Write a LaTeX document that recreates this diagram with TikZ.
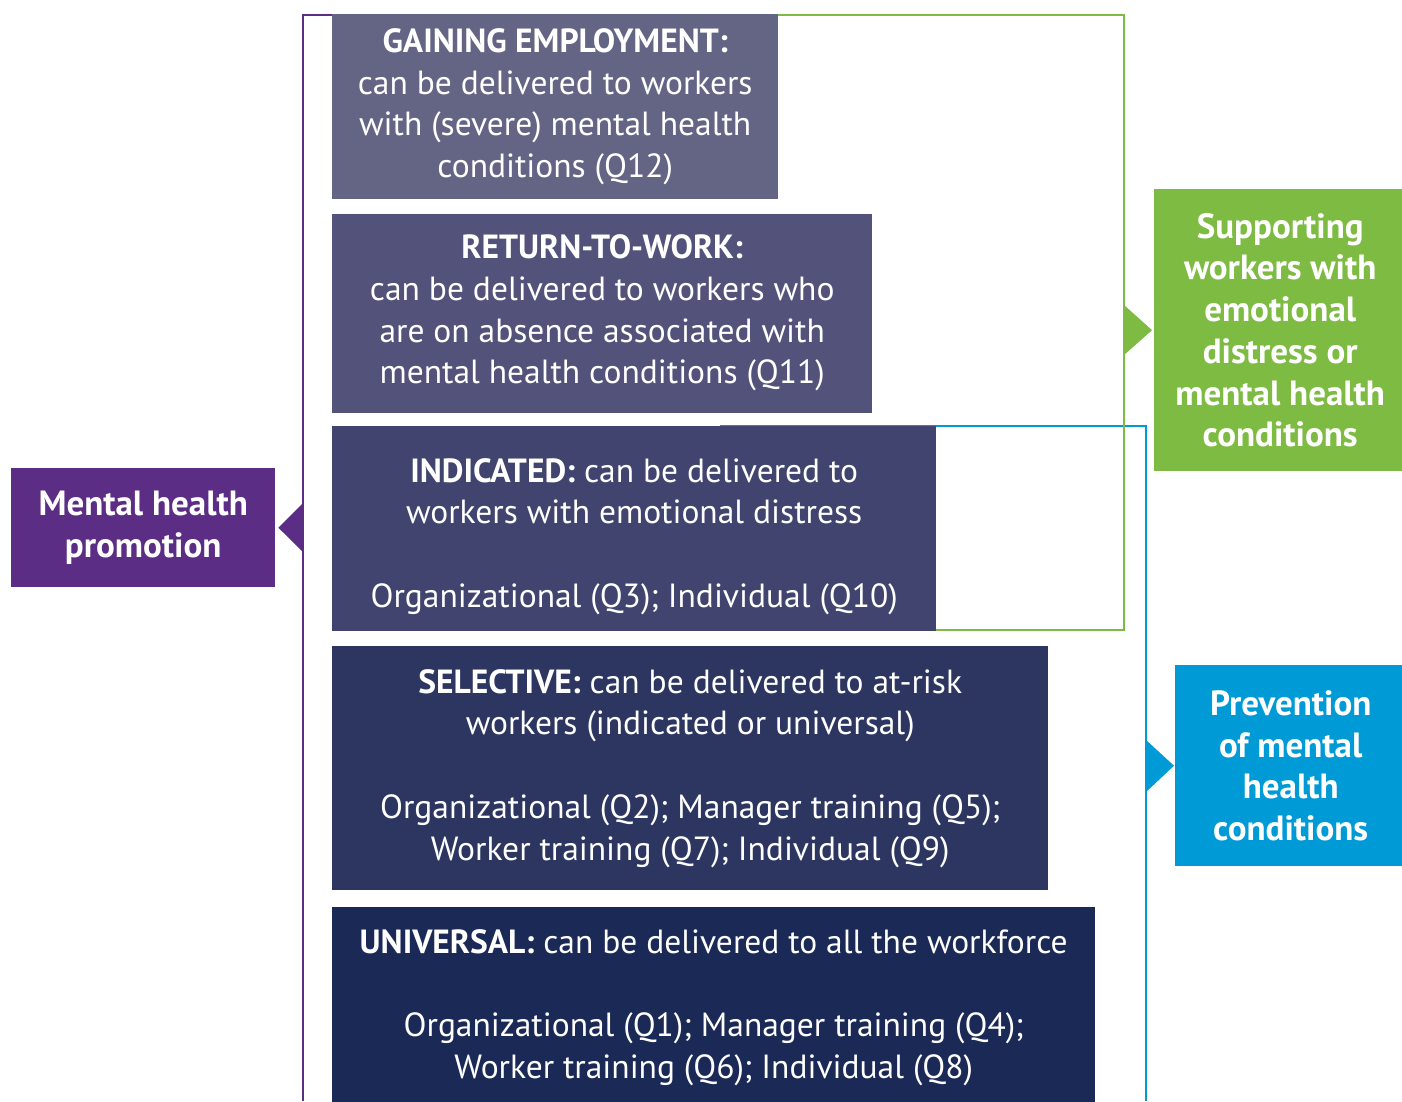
\documentclass[tikz,border=0pt]{standalone}
\usepackage{fontspec}
\setmainfont{PT Sans}
\usetikzlibrary{positioning}
\definecolor{mhpurple}{HTML}{5C2D84}
\definecolor{mhgreen}{HTML}{7DBB42}
\definecolor{mhblue}{HTML}{009AD6}
\definecolor{lvlA}{HTML}{646485}
\definecolor{lvlB}{HTML}{52527A}
\definecolor{lvlC}{HTML}{41446E}
\definecolor{lvlD}{HTML}{2D3561}
\definecolor{lvlE}{HTML}{1B2957}
\tikzset{
  level/.style={fill=#1, text=white, inner sep=0pt, align=center, anchor=north west,
    font=\fontsize{33.5}{41.7}\selectfont},
  tag/.style={fill=#1, text=white, inner sep=0pt, align=center, anchor=north west,
    font=\fontsize{35}{41.7}\selectfont\bfseries},
  bracket/.style={draw=#1, line width=2pt},
}
\begin{document}
\begin{tikzpicture}[x=1pt, y=-1pt, line join=miter]
	\clip (0,0) rectangle (1402,1101);
	\fill[white] (0,0) rectangle (1402,1101);
	\draw[bracket=mhblue] (720,426) -| (1146,1101); % prevention
	% levels of intervention
	\node[level=lvlA, minimum width=446pt, minimum height=185pt] (gain) at (332,14)
		{\textbf{GAINING EMPLOYMENT:}\\ can be delivered to workers\\ with (severe) mental health\\ conditions (Q12)};
	\node[level=lvlB, minimum width=540pt, minimum height=199pt, below=14pt of gain.south west, anchor=north west] (rtw)
		{\textbf{RETURN-TO-WORK:}\\ can be delivered to workers who\\ are on absence associated with\\ mental health conditions (Q11)};
	\node[level=lvlC, minimum width=604pt, minimum height=205pt, below=13pt of rtw.south west, anchor=north west] (ind)
		{\rule{0pt}{40pt}\textbf{INDICATED:} can be delivered to\\ workers with emotional distress\\[41.7pt] Organizational (Q3); Individual (Q10)};
	\node[level=lvlD, minimum width=716pt, minimum height=244pt, below=15pt of ind.south west, anchor=north west] (sel)
		{\textbf{SELECTIVE:} can be delivered to at-risk\\ workers (indicated or universal)\\[41.7pt] Organizational (Q2); Manager training (Q5);\\ Worker training (Q7); Individual (Q9)};
	\node[level=lvlE, minimum width=763pt, minimum height=201pt, below=16pt of sel.south west, anchor=north west] (uni)
		{\textbf{UNIVERSAL:} can be delivered to all the workforce\\[41.7pt] Organizational (Q1); Manager training (Q4);\\ Worker training (Q6); Individual (Q8)};
	% side labels
	\node[tag=mhpurple, minimum width=264pt, minimum height=119pt] (mhp) at (11,468) {Mental health\\ promotion};
	\node[tag=mhgreen, minimum width=252pt, minimum height=282pt] (sup) at (1154,189)
		{Supporting\\ workers with\\ emotional\\ distress or\\ mental health\\ conditions};
	\node[tag=mhblue, minimum width=231pt, minimum height=201pt] (prev) at (1175,665)
		{Prevention\\ of mental\\ health\\ conditions};
	% brackets
	\draw[bracket=mhpurple] ([yshift=-1pt]gain.north west) -| (303,1101);
	\draw[bracket=mhgreen] ([yshift=-1pt]gain.north east) -- (1124,15) |- ([yshift=1pt]ind.south east);
	\fill[mhpurple] (303,503) -- ([xshift=3pt]mhp.east) -- (303,552) -- cycle;
	\fill[mhgreen] (1124,305) -- ([xshift=-2pt]sup.west) -- (1124,355) -- cycle;
	\fill[mhblue] (1146,740) -- ([xshift=-1pt]prev.west) -- (1146,792) -- cycle;
\end{tikzpicture}
\end{document}
